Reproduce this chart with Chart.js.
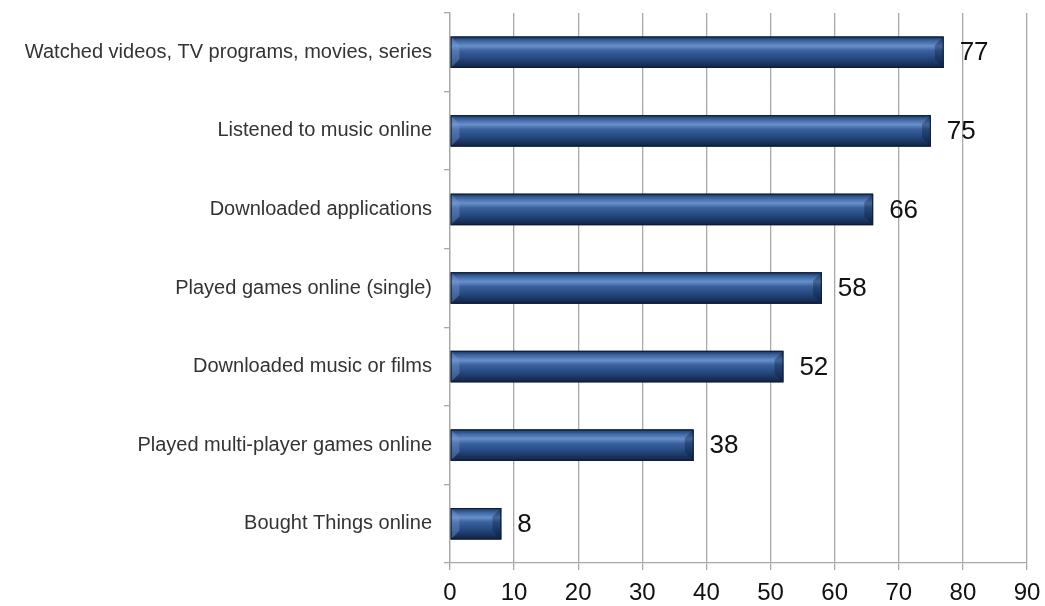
<!DOCTYPE html>
<html>
<head>
<meta charset="utf-8">
<script src="https://cdn.jsdelivr.net/npm/chart.js@4"></script>
<style>
  html, body { margin: 0; padding: 0; background: #fff; }
  #wrap { width: 1045px; height: 606px; }
</style>
</head>
<body>
<div id="wrap"><canvas id="chart"></canvas></div>
<script>
const categories = [
  "Watched videos, TV programs, movies, series",
  "Listened to music online",
  "Downloaded applications",
  "Played games online (single)",
  "Downloaded music or films",
  "Played multi-player games online",
  "Bought Things online"
];
const percentages = [77, 75, 66, 58, 52, 38, 8];
const xTicks = [0, 10, 20, 30, 40, 50, 60, 70, 80, 90];

const gridColor = "#a8a8a8";
const fontFamily = "'Liberation Sans', Arial, sans-serif";

// Bevelled blue bars: vertical gradient, lighter left cap, value at the end
const barShade = {
  id: "barShade",
  afterDatasetsDraw(chart) {
    const ctx = chart.ctx;
    const meta = chart.getDatasetMeta(0);
    meta.data.forEach((bar, i) => {
      const { x, y, base, height } = bar.getProps(["x", "y", "base", "height"], true);
      const top = y - height / 2;
      const left = Math.min(base, x);
      const w = Math.abs(x - base);
      const g = ctx.createLinearGradient(0, top, 0, top + height);
      g.addColorStop(0, "#1a2f54");
      g.addColorStop(0.12, "#37609d");
      g.addColorStop(0.3, "#6890c9");
      g.addColorStop(0.45, "#3a619e");
      g.addColorStop(0.7, "#24477d");
      g.addColorStop(0.88, "#19315a");
      g.addColorStop(1, "#10203c");
      ctx.save();
      ctx.fillStyle = g;
      ctx.fillRect(left, top, w, height);
      const bev = Math.min(height * 0.28, w / 2);
      ctx.fillStyle = "rgba(120,155,210,0.4)";
      ctx.beginPath();
      ctx.moveTo(left, top);
      ctx.lineTo(left + bev, top + bev);
      ctx.lineTo(left + bev, top + height - bev);
      ctx.lineTo(left, top + height);
      ctx.closePath();
      ctx.fill();
      ctx.fillStyle = "rgba(10,25,50,0.35)";
      ctx.beginPath();
      ctx.moveTo(left + w, top);
      ctx.lineTo(left + w - bev, top + bev);
      ctx.lineTo(left + w - bev, top + height - bev);
      ctx.lineTo(left + w, top + height);
      ctx.closePath();
      ctx.fill();
      ctx.strokeStyle = "#0e1c35";
      ctx.lineWidth = 1;
      ctx.strokeRect(left + 0.5, top + 0.5, w - 1, height - 1);
      ctx.fillStyle = "#111";
      ctx.font = "26px " + fontFamily;
      ctx.textAlign = "left";
      ctx.textBaseline = "middle";
      ctx.fillText(String(percentages[i]), x + 16, y + 1);
      ctx.restore();
    });
  }
};

new Chart(document.getElementById("chart"), {
  type: "bar",
  data: {
    labels: categories,
    datasets: [{
      data: percentages,
      backgroundColor: "#2e5490",
      barPercentage: 0.4,
      categoryPercentage: 1
    }]
  },
  options: {
    indexAxis: "y",
    responsive: true,
    maintainAspectRatio: false,
    animation: false,
    layout: { padding: { top: 13, right: 18, left: 0, bottom: 0 } },
    plugins: {
      legend: { display: false },
      tooltip: { enabled: false }
    },
    scales: {
      x: {
        min: 0,
        max: 90,
        afterBuildTicks: (scale) => {
          scale.ticks = xTicks.map((v) => ({ value: v }));
        },
        afterFit: (scale) => {
          scale.height = 43;
          scale.paddingLeft = 0;
          scale.paddingRight = 0;
        },
        grid: { color: gridColor, lineWidth: 1.3, tickLength: 7 },
        border: { color: gridColor, width: 1.3 },
        ticks: {
          color: "#111",
          padding: 9,
          font: { size: 24, family: fontFamily }
        }
      },
      y: {
        afterFit: (scale) => {
          scale.width = 450;
          scale.paddingTop = 0;
          scale.paddingBottom = 0;
        },
        grid: { drawOnChartArea: false, color: gridColor, lineWidth: 1.3, tickLength: 6 },
        border: { color: gridColor, width: 1.3 },
        ticks: {
          color: "#333",
          padding: 12,
          font: { size: 20, family: fontFamily }
        }
      }
    }
  },
  plugins: [barShade]
});
</script>
</body>
</html>
